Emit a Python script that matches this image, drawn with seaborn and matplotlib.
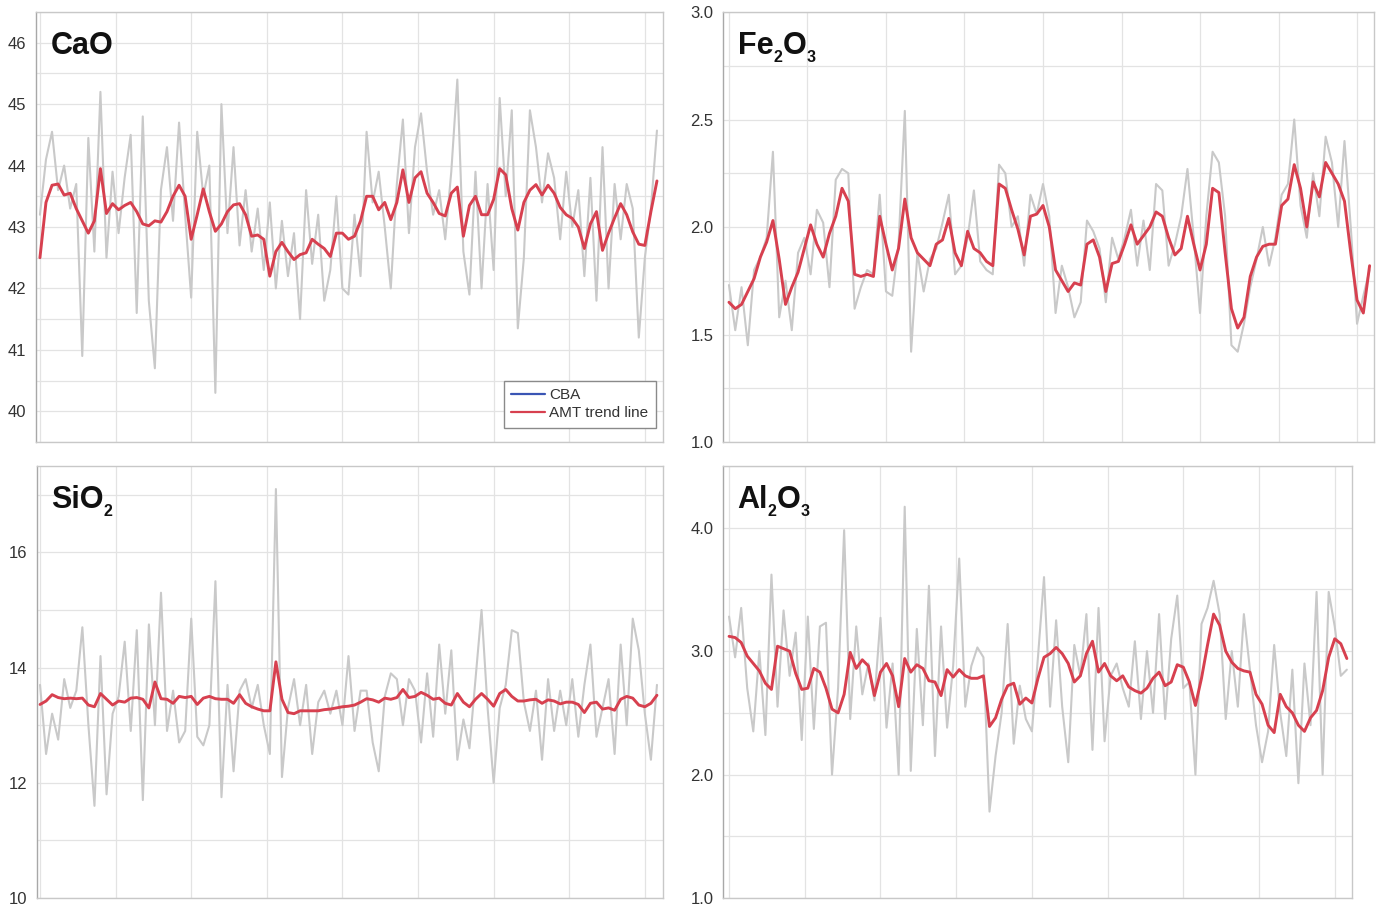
import numpy as np
import pandas as pd
import matplotlib
matplotlib.use("Agg")
import matplotlib.pyplot as plt
from matplotlib.lines import Line2D
from matplotlib.ticker import MultipleLocator, FormatStrFormatter
from matplotlib.transforms import offset_copy
import seaborn as sns

sample = np.arange(0, 205, 2)

cao_cba = [43.2, 44.1, 44.55, 43.6, 44.0, 43.3, 43.7, 40.9, 44.45, 42.6,
           45.2, 42.5, 43.9, 42.9, 43.8, 44.5, 41.6, 44.8, 41.8, 40.7,
           43.6, 44.3, 43.1, 44.7, 43.2, 41.85, 44.55, 43.5, 44.0, 40.3,
           45.0, 42.9, 44.3, 42.7, 43.6, 42.6, 43.3, 42.3, 43.4, 42.0,
           43.1, 42.2, 42.9, 41.5, 43.6, 42.4, 43.2, 41.8, 42.3, 43.5,
           42.0, 41.9, 43.2, 42.2, 44.55, 43.4, 43.9, 43.0, 42.0, 43.7,
           44.75, 42.9, 44.3, 44.85, 43.9, 43.2, 43.6, 42.8, 43.9, 45.4,
           42.6, 41.9, 43.9, 42.0, 43.7, 42.3, 45.1, 43.5, 44.9, 41.35,
           42.5, 44.9, 44.3, 43.4, 44.2, 43.8, 42.8, 43.9, 43.0, 43.6,
           42.2, 43.8, 41.8, 44.3, 42.0, 43.7, 42.8, 43.7, 43.3, 41.2,
           42.5, 43.3, 44.57]
cao_trend = [42.50, 43.40, 43.68, 43.70, 43.52, 43.55, 43.30, 43.10, 42.90, 43.10,
             43.95, 43.22, 43.38, 43.28, 43.35, 43.40, 43.25, 43.05, 43.02, 43.10,
             43.08, 43.25, 43.50, 43.68, 43.50, 42.80, 43.20, 43.62, 43.25, 42.93,
             43.05, 43.25, 43.36, 43.38, 43.20, 42.85, 42.87, 42.80, 42.20, 42.60,
             42.75, 42.60, 42.47, 42.55, 42.58, 42.80, 42.72, 42.65, 42.52, 42.90,
             42.90, 42.80, 42.85, 43.10, 43.50, 43.50, 43.28, 43.40, 43.12, 43.40,
             43.93, 43.40, 43.80, 43.90, 43.55, 43.40, 43.22, 43.18, 43.55, 43.65,
             42.85, 43.35, 43.50, 43.20, 43.20, 43.45, 43.95, 43.85, 43.30, 42.95,
             43.40, 43.60, 43.69, 43.52, 43.68, 43.55, 43.32, 43.20, 43.14, 43.00,
             42.65, 43.05, 43.25, 42.62, 42.90, 43.15, 43.38, 43.20, 42.92, 42.72,
             42.70, 43.25, 43.75]

fe_cba = [1.73, 1.52, 1.72, 1.45, 1.80, 1.86, 1.95, 2.35, 1.58, 1.75,
          1.52, 1.88, 1.95, 1.78, 2.08, 2.02, 1.72, 2.22, 2.27, 2.25,
          1.62, 1.72, 1.80, 1.78, 2.15, 1.70, 1.68, 1.92, 2.54, 1.42,
          1.88, 1.70, 1.85, 1.90, 2.02, 2.15, 1.78, 1.82, 1.95, 2.17,
          1.84, 1.80, 1.78, 2.29, 2.25, 2.00, 2.05, 1.82, 2.15, 2.06,
          2.20, 2.05, 1.60, 1.82, 1.72, 1.58, 1.65, 2.03, 1.98, 1.90,
          1.65, 1.95, 1.85, 1.95, 2.08, 1.82, 2.03, 1.80, 2.20, 2.17,
          1.82, 1.92, 2.05, 2.27, 1.95, 1.60, 2.05, 2.35, 2.30, 2.05,
          1.45, 1.42, 1.55, 1.72, 1.85, 2.00, 1.82, 1.95, 2.15, 2.20,
          2.50, 2.10, 1.95, 2.25, 2.05, 2.42, 2.30, 2.00, 2.40, 2.00,
          1.55, 1.68, 1.80]
fe_trend = [1.65, 1.62, 1.64, 1.70, 1.76, 1.86, 1.93, 2.03, 1.85, 1.64,
            1.72, 1.79, 1.90, 2.01, 1.92, 1.86, 1.97, 2.05, 2.18, 2.12,
            1.78, 1.77, 1.78, 1.77, 2.05, 1.92, 1.80, 1.90, 2.13, 1.95,
            1.88, 1.85, 1.82, 1.92, 1.94, 2.04, 1.88, 1.82, 1.98, 1.90,
            1.88, 1.84, 1.82, 2.20, 2.18, 2.08, 1.99, 1.87, 2.05, 2.06,
            2.10, 2.00, 1.80, 1.75, 1.70, 1.74, 1.73, 1.92, 1.94, 1.86,
            1.70, 1.83, 1.84, 1.92, 2.01, 1.92, 1.96, 2.00, 2.07, 2.05,
            1.95, 1.87, 1.90, 2.05, 1.92, 1.80, 1.92, 2.18, 2.16, 1.88,
            1.62, 1.53, 1.58, 1.77, 1.86, 1.91, 1.92, 1.92, 2.10, 2.13,
            2.29, 2.18, 2.00, 2.21, 2.14, 2.30, 2.25, 2.20, 2.12, 1.88,
            1.66, 1.60, 1.82]

si_cba = [13.70, 12.50, 13.20, 12.75, 13.80, 13.30, 13.60, 14.70, 13.00, 11.60,
          14.20, 11.80, 13.20, 13.50, 14.45, 12.90, 14.65, 11.70, 14.75, 13.00,
          15.30, 12.90, 13.60, 12.70, 12.90, 14.85, 12.80, 12.65, 13.00, 15.50,
          11.75, 13.70, 12.20, 13.60, 13.80, 13.30, 13.70, 13.00, 12.50, 17.10,
          12.10, 13.30, 13.80, 13.00, 13.70, 12.50, 13.40, 13.60, 13.20, 13.60,
          13.00, 14.20, 12.90, 13.60, 13.60, 12.70, 12.20, 13.50, 13.90, 13.80,
          13.00, 13.80, 13.60, 12.70, 13.90, 12.80, 14.40, 13.20, 14.30, 12.40,
          13.10, 12.60, 13.80, 15.00, 13.30, 12.00, 13.30, 13.70, 14.65, 14.60,
          13.40, 12.90, 13.60, 12.40, 13.80, 12.90, 13.60, 13.00, 13.80, 12.80,
          13.70, 14.40, 12.80, 13.30, 13.80, 12.50, 14.40, 13.00, 14.85, 14.30,
          13.20, 12.40, 13.70]
si_trend = [13.36, 13.42, 13.53, 13.48, 13.46, 13.47, 13.46, 13.47, 13.35, 13.32,
            13.55, 13.45, 13.35, 13.42, 13.40, 13.47, 13.48, 13.45, 13.30, 13.75,
            13.46, 13.45, 13.38, 13.50, 13.48, 13.50, 13.36, 13.47, 13.50, 13.46,
            13.45, 13.45, 13.38, 13.53, 13.38, 13.32, 13.28, 13.25, 13.25, 14.10,
            13.45, 13.22, 13.20, 13.25, 13.25, 13.25, 13.25, 13.27, 13.28, 13.30,
            13.32, 13.33, 13.35, 13.40, 13.46, 13.44, 13.40, 13.47, 13.45, 13.48,
            13.62, 13.48, 13.50, 13.57, 13.52, 13.45, 13.47, 13.38, 13.35, 13.55,
            13.40, 13.32, 13.45, 13.55, 13.45, 13.33, 13.55, 13.62, 13.50, 13.42,
            13.42, 13.44, 13.45, 13.38, 13.44, 13.42, 13.37, 13.40, 13.40, 13.36,
            13.22, 13.38, 13.40, 13.28, 13.30, 13.26, 13.45, 13.50, 13.47, 13.35,
            13.32, 13.38, 13.52]

al_cba = [3.28, 2.95, 3.35, 2.70, 2.35, 3.00, 2.32, 3.62, 2.55, 3.33,
          2.80, 3.15, 2.28, 3.28, 2.37, 3.20, 3.23, 2.00, 2.70, 3.98,
          2.45, 3.20, 2.65, 2.90, 2.60, 3.27, 2.38, 2.90, 2.00, 4.17,
          2.03, 3.18, 2.40, 3.53, 2.15, 3.20, 2.38, 2.88, 3.75, 2.55,
          2.88, 3.03, 2.95, 1.70, 2.15, 2.50, 3.22, 2.25, 2.72, 2.45,
          2.35, 2.95, 3.60, 2.55, 3.25, 2.55, 2.10, 3.05, 2.80, 3.30,
          2.20, 3.35, 2.27, 2.80, 2.90, 2.70, 2.55, 3.08, 2.45, 3.00,
          2.50, 3.30, 2.45, 3.10, 3.45, 2.70, 2.75, 2.00, 3.22, 3.35,
          3.57, 3.30, 2.45, 3.00, 2.55, 3.30, 2.85, 2.40, 2.10, 2.35,
          3.05, 2.50, 2.15, 2.85, 1.93, 2.90, 2.40, 3.48, 2.00, 3.48,
          3.20, 2.80, 2.85]
al_trend = [3.12, 3.11, 3.07, 2.96, 2.90, 2.84, 2.74, 2.69, 3.04, 3.02,
            3.00, 2.82, 2.69, 2.70, 2.86, 2.83, 2.70, 2.53, 2.50, 2.65,
            2.99, 2.86, 2.93, 2.88, 2.64, 2.83, 2.90, 2.80, 2.55, 2.94,
            2.83, 2.89, 2.86, 2.76, 2.75, 2.64, 2.85, 2.79, 2.85, 2.80,
            2.78, 2.78, 2.80, 2.39, 2.46, 2.61, 2.72, 2.74, 2.57, 2.62,
            2.58, 2.78, 2.95, 2.98, 3.03, 2.98, 2.90, 2.75, 2.80, 2.98,
            3.08, 2.83, 2.90, 2.80, 2.76, 2.80, 2.71, 2.68, 2.66, 2.70,
            2.78, 2.83, 2.72, 2.75, 2.89, 2.87, 2.75, 2.56, 2.78, 3.05,
            3.30, 3.21, 3.00, 2.91, 2.86, 2.84, 2.83, 2.65, 2.57, 2.40,
            2.34, 2.65, 2.55, 2.50, 2.40, 2.35, 2.46, 2.52, 2.68, 2.95,
            3.10, 3.06, 2.94]

GREY = "#c9c9c9"
RED = "#d7404f"
BLUE = "#3a55b4"

sns.set_style("white")
plt.rcParams["font.family"] = ["Liberation Sans", "DejaVu Sans"]

fig = plt.figure(figsize=(13.78, 9.06), dpi=100)
W, H = 1378.0, 906.0
renderer = fig.canvas.get_renderer()


def chem_title(ax, parts):
    # formula drawn piece by piece so the subscripts sit low and small
    dx = 0.0
    for txt, sub in parts:
        tr = offset_copy(ax.transAxes, fig=fig, x=dx, y=-5.5 if sub else 0, units="points")
        t = ax.text(0.023, 0.902, txt, transform=tr, fontsize=11.5 if sub else 22,
                    fontweight="bold", va="baseline", ha="left", color="#111111")
        dx += t.get_window_extent(renderer).width * 72.0 / fig.dpi


def panel(rect, cba, trend, parts, ylim, major, minor, fmt, xlim):
    left, top, right, bottom = rect
    ax = fig.add_axes([left / W, 1 - bottom / H, (right - left) / W, (bottom - top) / H])
    df = pd.DataFrame({"sample": sample, "cba": cba, "trend": trend})
    sns.lineplot(data=df, x="sample", y="cba", ax=ax, color=GREY, linewidth=1.5)
    sns.lineplot(data=df, x="sample", y="trend", ax=ax, color=RED, linewidth=2.1,
                 solid_joinstyle="round")
    ax.set_xlim(*xlim)
    ax.set_ylim(*ylim)
    ax.xaxis.set_major_locator(MultipleLocator(25))
    ax.yaxis.set_major_locator(MultipleLocator(major))
    ax.yaxis.set_minor_locator(MultipleLocator(minor))
    ax.yaxis.set_major_formatter(FormatStrFormatter(fmt))
    ax.grid(True, which="both", color="#e3e3e3", linewidth=0.9)
    ax.set_axisbelow(True)
    ax.set_xticklabels([])
    ax.set_xlabel("")
    ax.set_ylabel("")
    ax.tick_params(axis="x", length=3, color="#b0b0b0")
    ax.tick_params(axis="y", which="major", length=5, color="#a0a0a0",
                   labelsize=12, labelcolor="#333333", pad=2)
    ax.tick_params(axis="y", which="minor", length=3, color="#b0b0b0")
    for side in ["top", "right", "bottom"]:
        ax.spines[side].set_color("#c8c8c8")
    ax.spines["left"].set_color("#a8a8a8")
    for sp in ax.spines.values():
        sp.set_linewidth(1.0)
    chem_title(ax, parts)
    return ax


ax1 = panel((36, 12, 663, 442), cao_cba, cao_trend, [("CaO", False)],
            (39.5, 46.5), 1, 0.5, "%d", (-1.3, 206))
panel((723, 12, 1374, 442), fe_cba, fe_trend,
      [("Fe", False), ("2", True), ("O", False), ("3", True)],
      (1.0, 3.0), 0.5, 0.25, "%.1f", (-1.9, 205.4))
panel((37, 466, 663, 898), si_cba, si_trend, [("SiO", False), ("2", True)],
      (10, 17.5), 2, 1, "%d", (-1.0, 206))
panel((723, 466, 1352, 898), al_cba, al_trend,
      [("Al", False), ("2", True), ("O", False), ("3", True)],
      (1.0, 4.5), 1.0, 0.5, "%.1f", (-2.0, 205.7))

handles = [Line2D([], [], color=BLUE, linewidth=1.6, label="CBA"),
           Line2D([], [], color=RED, linewidth=1.6, label="AMT trend line")]
leg = ax1.legend(handles=handles, loc="lower right", bbox_to_anchor=(0.989, 0.033),
                 borderaxespad=0, fontsize=11, frameon=True, fancybox=False,
                 handlelength=2.2, handletextpad=0.3, labelspacing=0.25,
                 borderpad=0.5, framealpha=1)
leg.get_frame().set_edgecolor("#8a8a8a")
leg.get_frame().set_linewidth(1.0)
for t in leg.get_texts():
    t.set_color("#333333")

fig.savefig("out.png", dpi=100)
